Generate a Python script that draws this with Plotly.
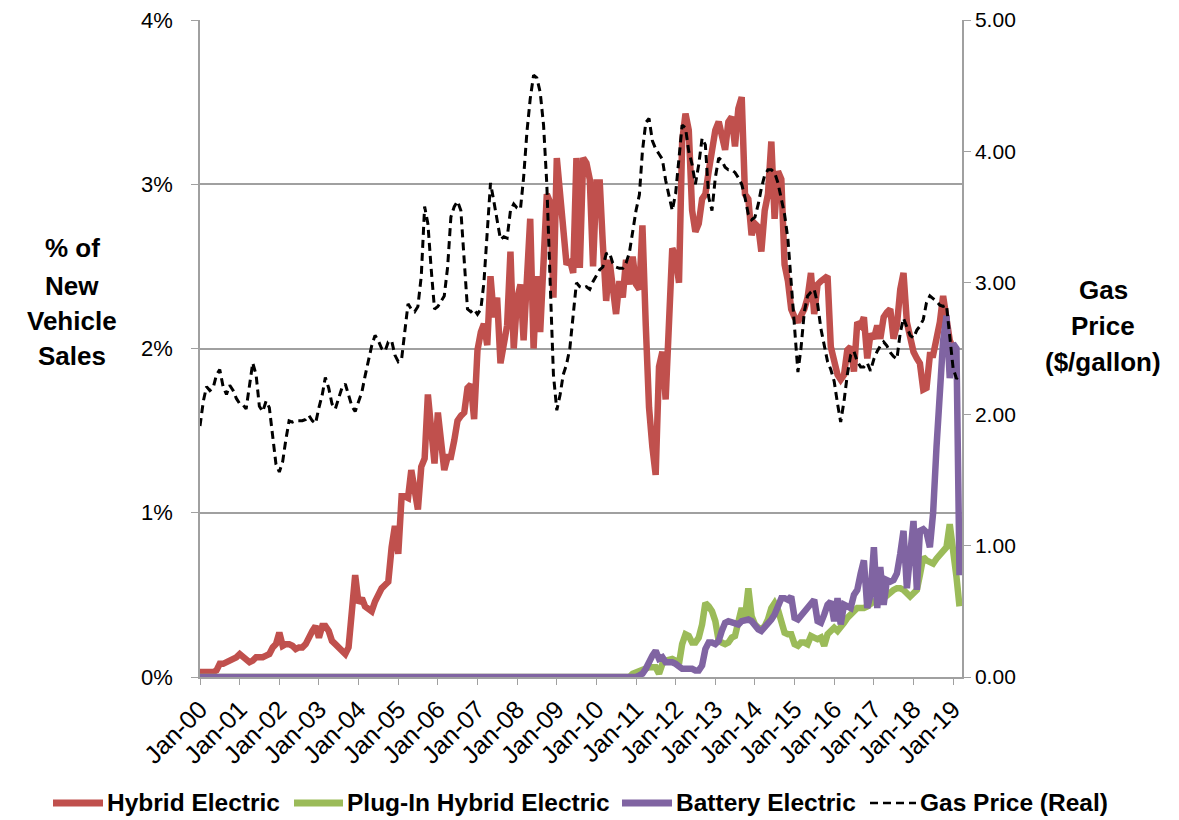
import pandas as pd
import plotly.graph_objects as go

# Monthly observations, Jan-2000 onward
months = pd.date_range("2000-01-01", periods=231, freq="MS")

# Hybrid electric share of new vehicle sales (%), Jan-2000 .. Feb-2019
hybrid = [
    0.03, 0.03, 0.03, 0.03, 0.03, 0.04, 0.08, 0.08, 0.09, 0.09, 0.10, 0.12,
    0.14, 0.12, 0.11, 0.09, 0.10, 0.12, 0.12, 0.12, 0.13, 0.14, 0.18, 0.20,
    0.27, 0.19, 0.20, 0.20, 0.19, 0.17, 0.18, 0.18, 0.20, 0.25, 0.28, 0.31,
    0.24, 0.31, 0.31, 0.28, 0.22, 0.20, 0.18, 0.15, 0.14, 0.18, 0.47, 0.62,
    0.45, 0.48, 0.43, 0.42, 0.40, 0.46, 0.51, 0.54, 0.56, 0.58, 0.79, 0.92,
    0.75, 1.10, 1.10, 1.09, 1.26, 1.14, 1.02, 1.28, 1.33, 1.72, 1.50, 1.30,
    1.61, 1.40, 1.26, 1.34, 1.34, 1.44, 1.56, 1.59, 1.61, 1.76, 1.78, 1.57,
    1.99, 2.10, 2.15, 2.02, 2.44, 2.19, 2.31, 1.91, 2.05, 2.14, 2.59, 2.00,
    2.30, 2.39, 2.05, 2.44, 2.79, 2.00, 2.44, 2.10, 2.55, 2.94, 2.89, 2.31,
    3.16, 2.95, 2.79, 2.51, 2.54, 2.46, 3.16, 2.49, 3.16, 3.13, 3.03, 2.50,
    3.01, 3.01, 2.64, 2.29, 2.54, 2.39, 2.21, 2.41, 2.31, 2.54, 2.39, 2.56,
    2.39, 2.36, 2.75, 2.14, 1.64, 1.40, 1.23, 1.89, 1.98, 1.69, 2.14, 2.61,
    2.56, 2.40, 3.26, 3.43, 3.33, 2.84, 2.71, 2.76, 2.91, 2.94, 3.08, 3.18,
    3.33, 3.38, 3.30, 3.21, 3.38, 3.41, 3.23, 3.46, 3.53, 2.94, 2.91, 2.69,
    2.76, 2.74, 2.59, 2.84, 2.94, 3.26, 2.79, 3.08, 3.03, 2.51, 2.41, 2.24,
    2.19, 2.16, 2.20, 2.24, 2.31, 2.46, 2.21, 2.39, 2.41, 2.42, 2.44, 2.01,
    1.90, 1.84, 1.81, 1.84, 1.99, 2.01, 1.86, 2.16, 2.14, 2.19, 1.94, 2.09,
    2.06, 2.14, 2.06, 2.19, 2.22, 2.24, 2.06, 2.14, 2.36, 2.46, 2.16, 2.06,
    1.98, 1.94, 1.91, 1.75, 1.76, 1.96, 1.96, 2.06, 2.16, 2.32, 2.20, 2.05,
    2.00, 1.98,
]

# Plug-in hybrid electric share (%), Jan-2000 .. Mar-2019
plugin_hybrid = [
    0, 0, 0, 0, 0, 0, 0, 0, 0, 0, 0, 0,
    0, 0, 0, 0, 0, 0, 0, 0, 0, 0, 0, 0,
    0, 0, 0, 0, 0, 0, 0, 0, 0, 0, 0, 0,
    0, 0, 0, 0, 0, 0, 0, 0, 0, 0, 0, 0,
    0, 0, 0, 0, 0, 0, 0, 0, 0, 0, 0, 0,
    0, 0, 0, 0, 0, 0, 0, 0, 0, 0, 0, 0,
    0, 0, 0, 0, 0, 0, 0, 0, 0, 0, 0, 0,
    0, 0, 0, 0, 0, 0, 0, 0, 0, 0, 0, 0,
    0, 0, 0, 0, 0, 0, 0, 0, 0, 0, 0, 0,
    0, 0, 0, 0, 0, 0, 0, 0, 0, 0, 0, 0,
    0, 0, 0, 0, 0, 0, 0, 0, 0, 0, 0, 0.02,
    0.03, 0.03, 0.04, 0.05, 0.06, 0.06, 0.06, 0.02, 0.08, 0.10, 0.11, 0.11,
    0.10, 0.08, 0.20, 0.26, 0.25, 0.21, 0.21, 0.24, 0.32, 0.45, 0.43, 0.40,
    0.34, 0.22, 0.21, 0.20, 0.21, 0.24, 0.25, 0.36, 0.42, 0.36, 0.54, 0.37,
    0.32, 0.30, 0.29, 0.31, 0.35, 0.42, 0.45, 0.41, 0.32, 0.27, 0.26, 0.26,
    0.20, 0.19, 0.21, 0.21, 0.20, 0.25, 0.24, 0.23, 0.24, 0.19, 0.26, 0.28,
    0.30, 0.28, 0.30, 0.33, 0.36, 0.38, 0.40, 0.42, 0.42, 0.42, 0.43, 0.45,
    0.46, 0.47, 0.47, 0.48, 0.50, 0.52, 0.53, 0.54, 0.54, 0.53, 0.51, 0.49,
    0.51, 0.53, 0.62, 0.73, 0.71, 0.70, 0.69, 0.72, 0.74, 0.76, 0.79, 0.93,
    0.79, 0.61, 0.43,
]

# Battery electric share (%), Jan-2000 .. Mar-2019
battery = [
    0, 0, 0, 0, 0, 0, 0, 0, 0, 0, 0, 0,
    0, 0, 0, 0, 0, 0, 0, 0, 0, 0, 0, 0,
    0, 0, 0, 0, 0, 0, 0, 0, 0, 0, 0, 0,
    0, 0, 0, 0, 0, 0, 0, 0, 0, 0, 0, 0,
    0, 0, 0, 0, 0, 0, 0, 0, 0, 0, 0, 0,
    0, 0, 0, 0, 0, 0, 0, 0, 0, 0, 0, 0,
    0, 0, 0, 0, 0, 0, 0, 0, 0, 0, 0, 0,
    0, 0, 0, 0, 0, 0, 0, 0, 0, 0, 0, 0,
    0, 0, 0, 0, 0, 0, 0, 0, 0, 0, 0, 0,
    0, 0, 0, 0, 0, 0, 0, 0, 0, 0, 0, 0,
    0, 0, 0, 0, 0, 0, 0, 0, 0, 0, 0, 0,
    0, 0.01, 0.02, 0.05, 0.10, 0.13, 0.16, 0.11, 0.12, 0.09, 0.09, 0.09,
    0.08, 0.06, 0.05, 0.05, 0.05, 0.05, 0.04, 0.04, 0.07, 0.17, 0.21, 0.21,
    0.20, 0.22, 0.28, 0.33, 0.34, 0.33, 0.33, 0.32, 0.34, 0.35, 0.35, 0.34,
    0.31, 0.29, 0.28, 0.30, 0.32, 0.35, 0.38, 0.42, 0.48, 0.48, 0.47, 0.49,
    0.36, 0.35, 0.37, 0.40, 0.42, 0.45, 0.47, 0.34, 0.33, 0.38, 0.44, 0.46,
    0.34, 0.48, 0.32, 0.44, 0.43, 0.42, 0.50, 0.53, 0.63, 0.71, 0.42, 0.50,
    0.79, 0.42, 0.67, 0.44, 0.59, 0.58, 0.59, 0.63, 0.75, 0.89, 0.54, 0.75,
    0.95, 0.53, 0.89, 0.90, 0.88, 0.79, 1.00, 1.40, 1.75, 2.05, 2.20, 1.82,
    2.03, 2.00, 0.62,
]

# Real gasoline price ($/gallon), Jan-2000 .. Mar-2019
gas_price = [
    1.91, 2.10, 2.21, 2.18, 2.20, 2.30, 2.34, 2.21, 2.15, 2.22, 2.18, 2.12,
    2.08, 2.07, 2.04, 2.20, 2.39, 2.30, 2.06, 2.02, 2.10, 2.05, 1.82, 1.62,
    1.56, 1.64, 1.80, 1.95, 1.94, 1.95, 1.95, 1.95, 1.96, 1.99, 1.95, 1.93,
    2.05, 2.15, 2.28, 2.20, 2.08, 2.04, 2.12, 2.20, 2.23, 2.14, 2.06, 2.02,
    2.10, 2.17, 2.29, 2.40, 2.52, 2.60, 2.56, 2.50, 2.48, 2.55, 2.56, 2.45,
    2.40, 2.42, 2.60, 2.84, 2.80, 2.78, 2.82, 3.05, 3.58, 3.45, 3.10, 2.80,
    2.82, 2.86, 2.90, 3.12, 3.50, 3.58, 3.62, 3.55, 3.12, 2.80, 2.78, 2.80,
    2.76, 2.80, 3.00, 3.38, 3.76, 3.62, 3.48, 3.33, 3.35, 3.34, 3.55, 3.60,
    3.57, 3.56, 3.80, 4.15, 4.40, 4.58, 4.56, 4.45, 4.20, 3.75, 3.00, 2.30,
    2.03, 2.15, 2.30, 2.38, 2.50, 2.78, 3.00, 2.97, 2.96, 2.97, 2.95, 3.01,
    3.05, 3.10, 3.12, 3.22, 3.23, 3.15, 3.12, 3.11, 3.11, 3.15, 3.23, 3.40,
    3.55, 3.67, 4.00, 4.22, 4.25, 4.08, 4.02, 3.98, 3.94, 3.78, 3.65, 3.55,
    3.68, 3.95, 4.20, 4.18, 4.00, 3.90, 3.75, 3.90, 4.10, 4.05, 3.65, 3.55,
    3.80, 3.95, 3.93, 3.88, 3.86, 3.86, 3.84, 3.80, 3.75, 3.65, 3.52, 3.48,
    3.50, 3.60, 3.72, 3.82, 3.86, 3.86, 3.84, 3.76, 3.65, 3.52, 3.33, 3.00,
    2.65, 2.32, 2.50, 2.78, 2.90, 2.93, 2.95, 2.84, 2.65, 2.52, 2.40, 2.34,
    2.25, 2.08, 1.94, 2.10, 2.30, 2.45, 2.48, 2.40, 2.36, 2.36, 2.39, 2.33,
    2.42, 2.48, 2.52, 2.55, 2.52, 2.47, 2.44, 2.42, 2.62, 2.73, 2.67, 2.60,
    2.58, 2.64, 2.67, 2.72, 2.85, 2.90, 2.88, 2.86, 2.83, 2.82, 2.83, 2.60,
    2.35, 2.27, 2.30,
]

share_ticks = [0, 1, 2, 3, 4]
share_tick_labels = ["0%", "1%", "2%", "3%", "4%"]
price_ticks = [0, 1, 2, 3, 4, 5]
price_tick_labels = ["0.00", "1.00", "2.00", "3.00", "4.00", "5.00"]

FONT = "Liberation Sans, Arial, sans-serif"
GRID = "#A0A0A0"
W, H = 1179, 820
ML, MR, MT, MB = 200, 217, 20, 143
PLOT_W, PLOT_H = W - ML - MR, H - MT - MB

series_styles = [
    ("Hybrid Electric", "#C0504D", "solid", 6.5),
    ("Plug-In Hybrid Electric", "#9BBB59", "solid", 6.5),
    ("Battery Electric", "#8064A2", "solid", 6.5),
    ("Gas Price (Real)", "black", "8px,5px", 3),
]

fig = go.Figure()
fig.add_trace(go.Scatter(
    x=months[:len(hybrid)], y=hybrid, name=series_styles[0][0], mode="lines",
    line=dict(color=series_styles[0][1], width=series_styles[0][3]), yaxis="y"))
fig.add_trace(go.Scatter(
    x=months, y=plugin_hybrid, name=series_styles[1][0], mode="lines",
    line=dict(color=series_styles[1][1], width=series_styles[1][3]), yaxis="y"))
fig.add_trace(go.Scatter(
    x=months, y=battery, name=series_styles[2][0], mode="lines",
    line=dict(color=series_styles[2][1], width=series_styles[2][3]), yaxis="y"))
fig.add_trace(go.Scatter(
    x=months, y=gas_price, name=series_styles[3][0], mode="lines",
    line=dict(color="black", width=series_styles[3][3], dash=series_styles[3][2]),
    yaxis="y2"))

fig.update_layout(
    width=W, height=H,
    margin=dict(l=ML, r=MR, t=MT, b=MB, autoexpand=False),
    paper_bgcolor="white", plot_bgcolor="white",
    font=dict(family=FONT, color="black"),
    showlegend=False,
    xaxis=dict(
        type="date",
        range=["2000-01-01", "2019-03-24"],
        tick0="2000-01-01", dtick="M12", tickformat="%b-%y",
        tickangle=-45, tickfont=dict(size=25),
        ticks="outside", ticklen=6, tickcolor=GRID,
        showline=True, linecolor=GRID, linewidth=1.5,
        showgrid=False, zeroline=False,
    ),
    yaxis=dict(
        range=[0, 4], tickvals=share_ticks, ticktext=share_tick_labels,
        tickfont=dict(size=22), ticks="outside", ticklen=7, tickcolor=GRID,
        ticklabelstandoff=14,
        showline=True, linecolor=GRID, linewidth=1.5,
        showgrid=True, gridcolor=GRID, gridwidth=1.5, zeroline=False,
    ),
    yaxis2=dict(
        range=[0, 5], tickvals=price_ticks, ticktext=price_tick_labels,
        overlaying="y", side="right",
        tickfont=dict(size=21), ticks="outside", ticklen=7, tickcolor=GRID,
        showline=True, linecolor=GRID, linewidth=1.5,
        showgrid=False, zeroline=False,
    ),
)


def px_to_paper_x(px):
    return (px - ML) / PLOT_W


def px_to_paper_y(py):
    return (H - MB - py) / PLOT_H


# Axis titles, one line at a time, set horizontally beside each axis
left_title = [("% of", 248), ("New", 286), ("Vehicle", 321), ("Sales", 356)]
right_title = [("Gas", 290), ("Price", 326), ("($/gallon)", 362)]
for cx, lines in ((72, left_title), (1103, right_title)):
    for text, cy in lines:
        fig.add_annotation(
            text=f"<b>{text}</b>", xref="paper", yref="paper",
            x=px_to_paper_x(cx), y=px_to_paper_y(cy),
            xanchor="center", yanchor="middle", showarrow=False,
            font=dict(family=FONT, size=26))

# Legend row beneath the date labels: line sample followed by series name
legend_y = px_to_paper_y(803)
legend_x = [53, 294, 622, 870]
sample_len = [50, 49, 50, 46]
for (name, color, dash, width), x0, ln in zip(series_styles, legend_x, sample_len):
    fig.add_shape(
        type="line", xref="paper", yref="paper",
        x0=px_to_paper_x(x0), x1=px_to_paper_x(x0 + ln), y0=legend_y, y1=legend_y,
        line=dict(color=color, width=width + 0.5 if dash == "solid" else 2.5,
                  dash=dash if dash != "solid" else "solid"))
    fig.add_annotation(
        text=f"<b>{name}</b>", xref="paper", yref="paper",
        x=px_to_paper_x(x0 + ln + 2), y=legend_y, xanchor="left", yanchor="middle",
        showarrow=False, font=dict(family=FONT, size=24.5))

fig.write_html("out.html")
